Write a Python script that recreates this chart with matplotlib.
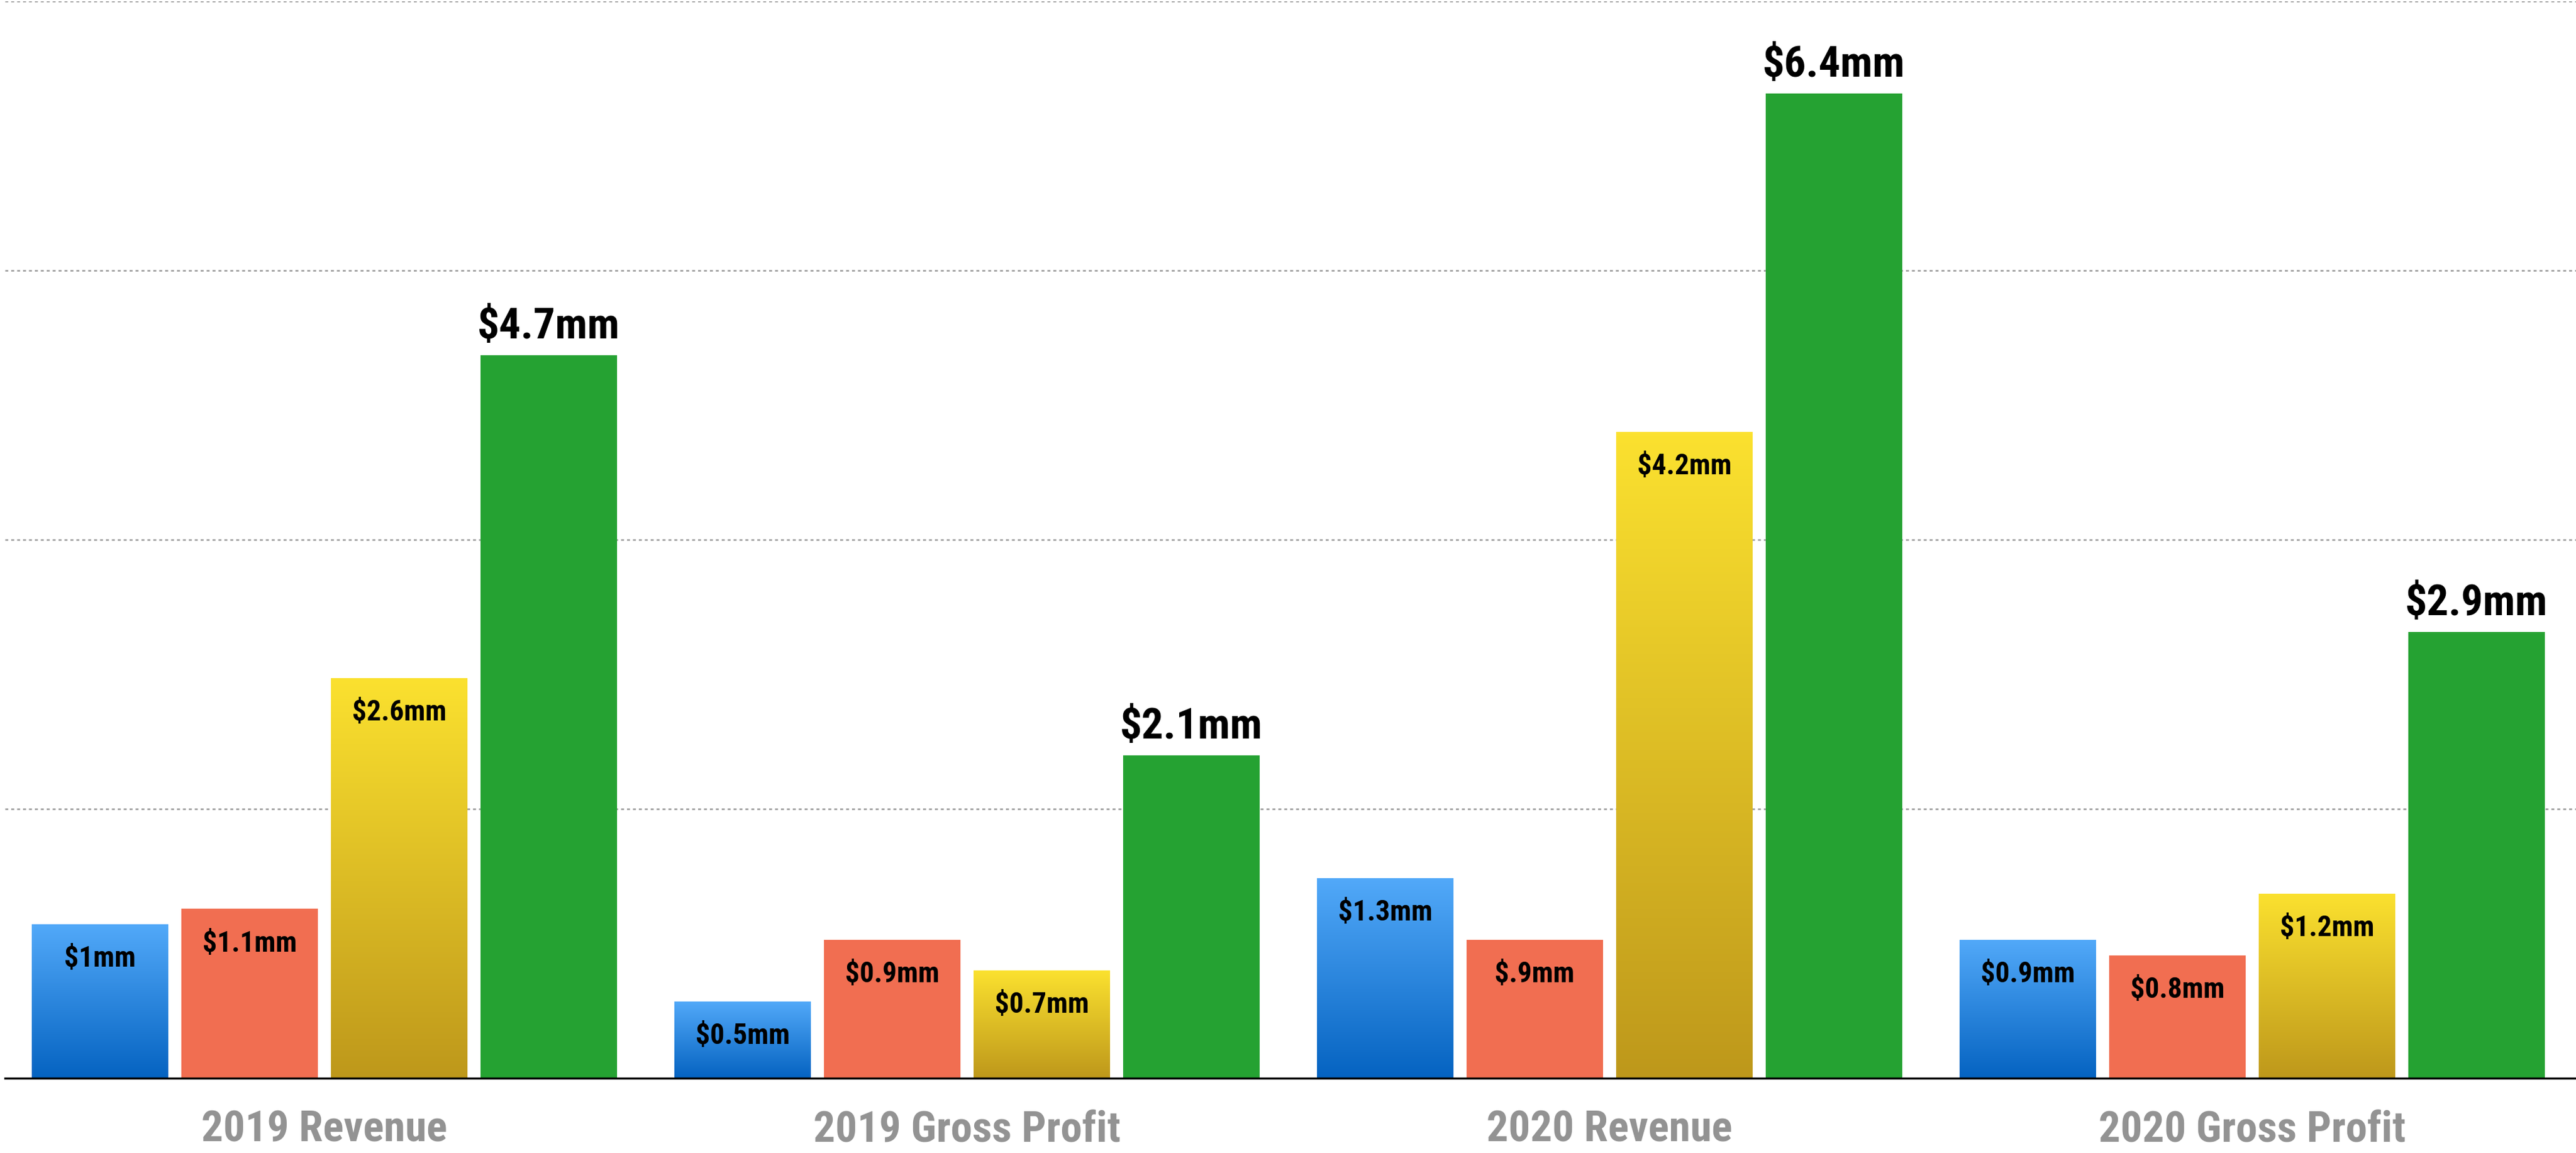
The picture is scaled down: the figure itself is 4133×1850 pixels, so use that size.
import numpy as np
import matplotlib
matplotlib.use('Agg')
import matplotlib.pyplot as plt
from matplotlib import font_manager
from matplotlib.colors import LinearSegmentedColormap

categories = ['2019 Revenue', '2019 Gross Profit', '2020 Revenue', '2020 Gross Profit']
blue_vals = [1.0, 0.5, 1.3, 0.9]
orange_vals = [1.1, 0.9, 0.9, 0.8]
yellow_vals = [2.6, 0.7, 4.2, 1.2]
green_vals = [4.7, 2.1, 6.4, 2.9]
blue_labels = ['$1mm', '$0.5mm', '$1.3mm', '$0.9mm']
orange_labels = ['$1.1mm', '$0.9mm', '$.9mm', '$0.8mm']
yellow_labels = ['$2.6mm', '$0.7mm', '$4.2mm', '$1.2mm']
green_labels = ['$4.7mm', '$2.1mm', '$6.4mm', '$2.9mm']

# pick a narrow font if the box has one
names = {f.name for f in font_manager.fontManager.ttflist}
font = 'DejaVu Sans'
for cand in ['Liberation Sans Narrow', 'Roboto Condensed', 'Open Sans Condensed',
             'Noto Sans Condensed', 'DejaVu Sans Condensed']:
    if cand in names:
        font = cand
        break
stretch = 'condensed' if font == 'DejaVu Sans' else 'normal'
plt.rcParams['font.family'] = [font, 'DejaVu Sans']

fig = plt.figure(figsize=(41.33, 18.5), dpi=100)
ax = fig.add_axes([8 / 4133, 120 / 1850, 1 - 8 / 4133, 1728 / 1850])

x = np.arange(len(categories))
step = 0.2328
width = 0.2124
offsets = (np.arange(4) - 1.5) * step

series = [blue_vals, orange_vals, yellow_vals, green_vals]
colors = ['#2F86E0', '#F16E51', '#E0C028', '#25A232']
groups = []
for vals, off, col in zip(series, offsets, colors):
    groups.append(ax.bar(x + off, vals, width, color=col, zorder=3))

blue_cmap = LinearSegmentedColormap.from_list('b', ['#0563C1', '#52A9F9'])
gold_cmap = LinearSegmentedColormap.from_list('y', ['#BE981B', '#FBE12F'])
grad = np.linspace(0, 1, 256).reshape(-1, 1)
for bars, cmap in [(groups[0], blue_cmap), (groups[2], gold_cmap)]:
    for b in bars:
        x0, y0, w, h = b.get_x(), b.get_y(), b.get_width(), b.get_height()
        im = ax.imshow(grad, extent=[x0, x0 + w, y0, y0 + h], origin='lower',
                       aspect='auto', cmap=cmap, zorder=3.5, interpolation='bilinear')
        im.set_clip_path(b)

ax.set_xlim(-0.497, 3.504)
ax.set_ylim(0, 7)
ax.set_yticks([1.75, 3.5, 5.25, 7.0])
ax.set_yticklabels([])
ax.grid(axis='y', color='#A0A0A0', linewidth=1.9, linestyle=(0, (1.8, 1.8)), zorder=0)
ax.set_axisbelow(True)
for s in ['top', 'right', 'left']:
    ax.spines[s].set_visible(False)
ax.spines['bottom'].set_linewidth(2.4)
ax.spines['bottom'].set_color('black')
ax.spines['bottom'].set_zorder(5)
ax.tick_params(axis='both', length=0)
ax.tick_params(axis='x', pad=73)
ax.set_xticks(x)
ax.set_xticklabels(categories, fontsize=50, fontweight='bold', color='#939393',
                   fontstretch=stretch)
for lbl in ax.get_xticklabels():
    lbl.set_va('baseline')

# labels inside the first three bars of each group
for bars, labels in zip(groups[:3], [blue_labels, orange_labels, yellow_labels]):
    for b, t in zip(bars, labels):
        ax.annotate(t, (b.get_x() + b.get_width() / 2, b.get_height()),
                    xytext=(0, -49), textcoords='offset points', ha='center',
                    va='baseline', fontsize=33, fontweight='bold', color='black',
                    fontstretch=stretch, zorder=6)

# big labels over the green bars
for b, t in zip(groups[3], green_labels):
    ax.annotate(t, (b.get_x() + b.get_width() / 2, b.get_height()),
                xytext=(0, 19.5), textcoords='offset points', ha='center',
                va='baseline', fontsize=50, fontweight='bold', color='black',
                fontstretch=stretch, zorder=6)

fig.savefig('out.png', dpi=100, facecolor='white')
